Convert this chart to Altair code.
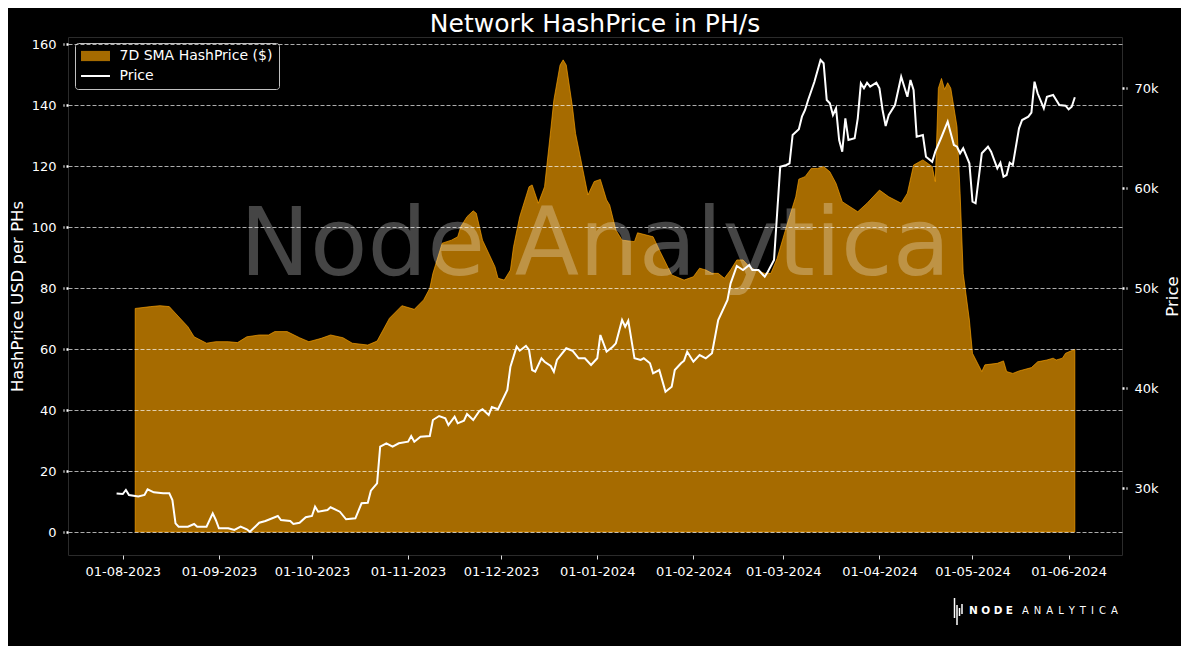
import altair as alt
import pandas as pd

# ---------------- data ----------------
START = "2023-08-01"  # day 0 of the day offsets below

hash_days = [4, 9, 12, 15, 16, 21, 23, 27, 30, 34, 37, 40, 44, 47, 49, 53, 57, 60, 64, 67,
             71, 74, 79, 82, 86, 90, 94, 97, 99, 100, 103, 106, 108, 109, 111, 113, 114, 115,
             116, 120, 121, 123, 125, 126, 128, 131, 132, 134, 136, 138, 139, 141, 142, 143,
             145, 146, 150, 152, 154, 156, 157, 159, 161, 165, 166, 171, 173, 177, 181, 184,
             186, 188, 190, 192, 194, 196, 198, 200, 202, 204, 207, 209, 211, 214, 217, 218,
             220, 222, 224, 226, 228, 230, 232, 237, 240, 244, 247, 251, 253, 255, 258, 261,
             262, 263, 264, 265, 266, 267, 269, 270, 271, 273, 274, 277, 278, 282, 284, 285,
             287, 289, 293, 295, 298, 300, 301, 303, 304, 307]
hash_values = [73.3, 73.9, 74.2, 73.9, 72.8, 67.3, 64.0, 61.9, 62.4, 62.4, 62.1, 64.0, 64.6, 64.6,
               65.7, 65.7, 63.7, 62.4, 63.5, 64.6, 63.7, 61.9, 61.3, 62.6, 70.1, 74.2, 73.0, 76.1,
               79.9, 84.8, 94.7, 95.7, 96.8, 100.1, 103.4, 105.3, 104.5, 100.1, 95.7, 87.0, 83.2,
               82.6, 85.9, 93.5, 103.4, 113.2, 113.8, 107.8, 113.2, 131.8, 141.6, 153.1, 154.8,
               153.1, 139.4, 130.7, 110.5, 114.9, 115.6, 108.9, 107.2, 99.0, 95.7, 95.2, 98.1,
               96.8, 92.5, 84.3, 82.6, 83.7, 86.5, 85.9, 84.8, 84.8, 83.2, 85.9, 89.2, 89.2, 87.0,
               85.9, 84.8, 84.8, 89.7, 100.1, 109.9, 115.7, 116.5, 119.2, 119.2, 119.8, 118.1,
               114.3, 108.3, 105.0, 107.8, 112.1, 109.9, 107.8, 111.1, 120.3, 122.0, 119.8, 114.9,
               145.5, 148.7, 145.1, 147.3, 145.5, 132.9, 111.1, 84.8, 69.5, 58.6, 52.6, 54.8, 55.3,
               56.1, 52.6, 52.0, 52.8, 53.9, 55.8, 56.4, 57.0, 56.4, 57.0, 58.6, 59.9]

price_days = [-2, 0, 1, 2, 5, 7, 8, 10, 13, 15, 16, 17, 18, 21, 23, 24, 27, 29, 30, 31, 34, 36,
              38, 40, 41, 44, 46, 50, 51, 54, 55, 57, 59, 61, 62, 63, 66, 67, 70, 72, 75, 77, 79,
              80, 82, 83, 85, 87, 89, 92, 93, 94, 96, 99, 100, 102, 104, 105, 107, 108, 110, 111,
              113, 115, 116, 118, 119, 121, 124, 125, 127, 128, 130, 131, 132, 133, 135, 136, 138,
              139, 140, 143, 145, 147, 149, 151, 153, 154, 156, 158, 159, 161, 162, 163, 165, 167,
              168, 170, 171, 173, 175, 177, 178, 180, 181, 182, 184, 186, 188, 190, 192, 195, 196,
              198, 200, 202, 203, 205, 207, 208, 210, 211, 212, 214, 215, 216, 218, 219, 220, 221,
              223, 225, 226, 227, 228, 229, 230, 231, 232, 233, 234, 236, 237, 238, 239, 240, 241,
              243, 244, 245, 246, 247, 249, 251, 253, 254, 255, 256, 258, 259, 261, 262, 264, 266,
              268, 269, 270, 271, 273, 274, 275, 277, 279, 280, 282, 283, 284, 285, 286, 287, 289,
              290, 292, 293, 294, 295, 297, 298, 300, 302, 304, 305, 306, 307]
price_values = [29450, 29400, 29800, 29300, 29150, 29300, 29870, 29570, 29470, 29470, 28800, 26470,
                26130, 26130, 26400, 26130, 26130, 27470, 26800, 25970, 25970, 25800, 26130, 25870,
                25630, 26530, 26700, 27200, 26800, 26700, 26400, 26530, 27070, 27200, 28130, 27630,
                27800, 28070, 27630, 26870, 26970, 28470, 28530, 29730, 30470, 34130, 34470, 34130,
                34470, 34630, 35200, 34630, 35130, 35200, 36800, 37200, 36970, 36300, 37130, 36470,
                36730, 37400, 36800, 37700, 37870, 37300, 38100, 37870, 39800, 42130, 44130, 43730,
                44200, 43800, 41800, 41630, 42970, 42630, 42200, 41630, 42800, 43970, 43730, 42970,
                42970, 42300, 42970, 45300, 43630, 44130, 44470, 46800, 46130, 46730, 42970, 42800,
                42970, 42470, 41470, 41800, 39630, 40130, 41800, 42470, 42730, 43630, 42630, 43300,
                42970, 43470, 46800, 48800, 50470, 52200, 51800, 52300, 51800, 51800, 51130, 51630,
                52800, 57470, 62130, 62300, 62470, 65300, 65870, 67130, 67800, 68800, 70600, 72800,
                72470, 68800, 68470, 67300, 67970, 64800, 63630, 66970, 64800, 64970, 66970, 70470,
                69970, 70530, 70130, 70530, 69970, 67800, 66200, 67300, 68300, 71130, 69130, 70800,
                69800, 65130, 65300, 63130, 62630, 63630, 65100, 66630, 64300, 64130, 63470, 63970,
                62470, 58630, 58470, 63470, 64130, 63630, 61970, 62530, 61130, 61300, 62530, 62300,
                65970, 66800, 67130, 67530, 70630, 69470, 67970, 69130, 69300, 68300, 68230, 67870,
                68130, 69070]

legend_labels = ["7D SMA HashPrice ($)", "Price"]
hash_ticks = [0, 20, 40, 60, 80, 100, 120, 140, 160]
price_ticks = [30000, 40000, 50000, 60000, 70000]
month_ticks = [(2023, 8), (2023, 9), (2023, 10), (2023, 11), (2023, 12), (2024, 1),
               (2024, 2), (2024, 3), (2024, 4), (2024, 5), (2024, 6)]

TITLE = "Network HashPrice in PH/s"
WATERMARK = "Node Analytica"
LOGO_BOLD = "\u2004".join("NODE")
LOGO_LIGHT = "\u2002".join("ANALYTICA")

# ---------------- frames ----------------
start = pd.Timestamp(START)
hash_df = pd.DataFrame({"date": start + pd.to_timedelta(hash_days, unit="D"), "hash": hash_values})
price_df = pd.DataFrame({"date": start + pd.to_timedelta(price_days, unit="D"), "price": price_values})
legend_df = pd.DataFrame({"series": legend_labels})

FONT = "DejaVu Sans"
W, H = 1054, 518

x_enc = alt.X(
    "date:T",
    scale=alt.Scale(domain=[alt.DateTime(year=2023, month=7, date=14, hours=8),
                            alt.DateTime(year=2024, month=6, date=18, hours=5)]),
    axis=alt.Axis(
        values=[alt.DateTime(year=y, month=m, date=1) for y, m in month_ticks],
        format="%d-%m-%Y", title=None, grid=False, labelFlush=False, labelOverlap=False,
        tickSize=4, tickColor="#dddddd", tickWidth=1, labelPadding=6,
    ),
)

area = alt.Chart(hash_df).mark_area(
    fill="#FFA500", fillOpacity=0.65, stroke="#FFA500", strokeOpacity=0.65, strokeWidth=1,
).encode(
    x=x_enc,
    y=alt.Y("hash:Q", stack=None,
            scale=alt.Scale(domain=[-7.54, 162.3], nice=False, zero=False),
            axis=alt.Axis(orient="left", values=hash_ticks, title="HashPrice USD per PHs",
                          grid=True, gridDash=[4, 2], gridColor="#ffffff", gridOpacity=0.85,
                          gridWidth=0.8, tickSize=5, tickDash=[2, 2], tickWidth=2.5,
                          labelPadding=7, titlePadding=6, zindex=1, labelFlush=False)),
    y2=alt.datum(0),
)

watermark = alt.Chart(pd.DataFrame({"t": [WATERMARK]})).mark_text(
    font=FONT, fontSize=94, color="#ffffff", opacity=0.27, align="center", baseline="alphabetic",
).encode(text="t:N", x=alt.value(527), y=alt.value(238))

line = alt.Chart(price_df).mark_line(color="#ffffff", strokeWidth=2).encode(
    x=x_enc,
    y=alt.Y("price:Q",
            scale=alt.Scale(domain=[23300, 75100], nice=False, zero=False),
            axis=alt.Axis(orient="right", values=price_ticks, labelExpr="datum.value / 1000 + 'k'",
                          title="Price", titleAngle=270, titleBaseline="top", grid=False,
                          tickSize=5, tickDash=[2, 2], tickWidth=2.5, labelPadding=7,
                          titlePadding=6, labelFlush=False)),
)

# legend swatches: a wide filled box for the area and a thin bar for the line
rect_path = "M-2.07,-0.73H2.07V0.73H-2.07Z"
line_path = "M-2.07,-0.14H2.07V0.14H-2.07Z"
leg = dict(orient="none", legendX=7, legendY=6, title=None, fillColor="#000000",
           strokeColor="#c0c0c0", cornerRadius=3, padding=6, rowPadding=6,
           labelFontSize=14, labelFont=FONT, labelColor="#ffffff", labelOffset=17,
           symbolSize=196, symbolOffset=7.5, symbolOpacity=1, symbolStrokeWidth=0)
legend_layer = alt.Chart(legend_df).mark_point(filled=True, opacity=0).encode(
    color=alt.Color("series:N", scale=alt.Scale(domain=legend_labels, range=["#A66B00", "#FFFFFF"]),
                    legend=alt.Legend(**leg)),
    shape=alt.Shape("series:N", scale=alt.Scale(domain=legend_labels, range=[rect_path, line_path]),
                    legend=alt.Legend(**leg)),
)

logo_bold = alt.Chart(pd.DataFrame({"t": [LOGO_BOLD]})).mark_text(
    font=FONT, fontSize=10.5, fontWeight="bold", color="#ffffff", align="left", baseline="middle",
).encode(text="t:N", x=alt.value(901), y=alt.value(574))
logo_light = alt.Chart(pd.DataFrame({"t": [LOGO_LIGHT]})).mark_text(
    font=FONT, fontSize=10, color="#ffffff", align="left", baseline="middle",
).encode(text="t:N", x=alt.value(954), y=alt.value(574))

logo_bars = []
for bx, by1, by2 in [(886.5, 561, 581), (889, 568, 588), (891.5, 571, 579), (894, 567, 577)]:
    logo_bars.append(
        alt.Chart(pd.DataFrame({"k": [0]})).mark_rule(color="#ffffff", strokeWidth=1.5).encode(
            x=alt.value(bx), y=alt.value(by1), y2=alt.value(by2))
    )

chart = alt.layer(area, watermark, line, legend_layer, logo_bold, logo_light, *logo_bars).resolve_scale(
    y="independent"
).properties(
    width=W, height=H,
    title=alt.TitleParams(TITLE, font=FONT, fontSize=25, fontWeight="normal", color="#ffffff",
                          offset=0, anchor="middle"),
    autosize=alt.AutoSizeParams(type="none"),
    padding={"left": 60, "top": 29, "right": 59, "bottom": 91},
    background="#000000",
).configure_view(
    stroke="#2b2b2b", strokeWidth=1,
).configure_axis(
    labelFont=FONT, labelFontSize=13, labelColor="#ffffff",
    titleFont=FONT, titleFontSize=16.5, titleFontWeight="normal", titleColor="#ffffff",
    tickColor="#ffffff", domain=False,
)

chart.save("out.html", embed_options={"renderer": "svg", "actions": False})
